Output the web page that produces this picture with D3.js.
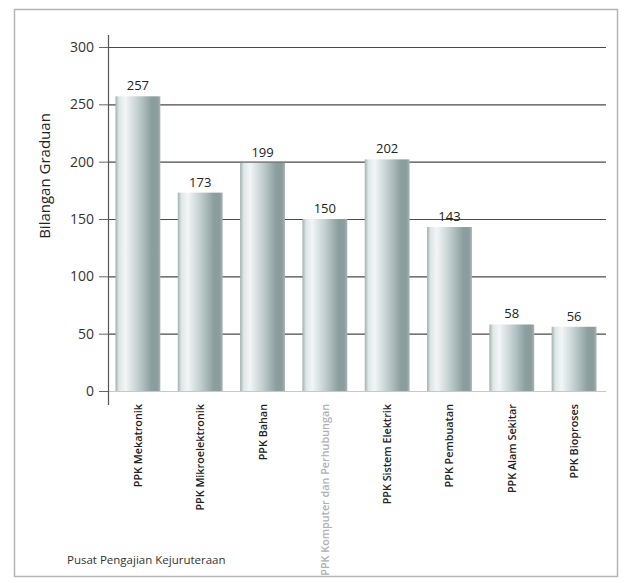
<!DOCTYPE html>
<html>
<head>
<meta charset="utf-8">
<script src="https://cdn.jsdelivr.net/npm/d3@7"></script>
<style>
  body { margin: 0; background: #fff; }
  svg { display: block; font-family: "Open Sans", sans-serif; }
</style>
</head>
<body>
<svg id="chart"></svg>
<script>
// data
let categories = [
    'PPK Mekatronik',
    'PPK Mikroelektronik',
    'PPK Bahan',
    'PPK Komputer dan Perhubungan',
    'PPK Sistem Elektrik',
    'PPK Pembuatan',
    'PPK Alam Sekitar',
    'PPK Bioproses'
]
let graduates = [257, 173, 199, 150, 202, 143, 58, 56]
let yTicks = [0, 50, 100, 150, 200, 250, 300]
let yTitle = 'Bilangan Graduan'
let xTitle = 'Pusat Pengajian Kejuruteraan'

let W = 626, H = 583
let margin = { left: 108, right: 20, top: 47, bottom: 192 }

let svg = d3.select('#chart').attr('width', W).attr('height', H)

// cylinder-like shading for the bars
let grad = svg.append('defs').append('linearGradient')
    .attr('id', 'barShade')
    .attr('x1', '0%').attr('x2', '100%')
let stops = [
    [0, '#9fb0b0'], [0.08, '#dfe6e6'], [0.22, '#f2f5f5'],
    [0.5, '#c3cfcf'], [0.8, '#8c9f9f'], [0.93, '#8a9c9c'], [1, '#a7b5b5']
]
stops.forEach(s => grad.append('stop').attr('offset', s[0]).attr('stop-color', s[1]))

// outer frame
svg.append('rect')
    .attr('x', 14.5).attr('y', 9.5)
    .attr('width', 603).attr('height', 567)
    .attr('fill', 'none').attr('stroke', '#b5b5b5').attr('stroke-width', 1.5)

let x = d3.scaleBand()
    .domain(categories)
    .range([margin.left, 604])
    .paddingInner(0.28)
    .paddingOuter(0.12)

let y = d3.scaleLinear()
    .domain([0, 300])
    .range([H - margin.bottom, margin.top])

// gridlines
svg.append('g')
    .selectAll('line')
    .data(yTicks.filter(t => t > 0))
    .join('line')
    .attr('x1', margin.left).attr('x2', 606)
    .attr('y1', d => y(d) + 0.5).attr('y2', d => y(d) + 0.5)
    .attr('stroke', '#4a4a4a').attr('stroke-width', 1.2)

// baseline
svg.append('line')
    .attr('x1', margin.left).attr('x2', 606)
    .attr('y1', y(0) + 0.5).attr('y2', y(0) + 0.5)
    .attr('stroke', '#c8c8c8')

// y axis
let yAxis = svg.append('g')
    .attr('transform', `translate(${margin.left},0)`)
    .call(d3.axisLeft(y).tickValues(yTicks).tickSize(9).tickPadding(5))
yAxis.select('.domain').remove()
yAxis.selectAll('.tick line').attr('stroke', '#666')
yAxis.selectAll('.tick text')
    .attr('font-size', 14).attr('fill', '#333')
    .attr('font-family', '"Open Sans", sans-serif')
svg.append('line')
    .attr('x1', margin.left + 0.5).attr('x2', margin.left + 0.5)
    .attr('y1', 35).attr('y2', 405)
    .attr('stroke', '#555').attr('stroke-width', 1.2)

// bars
svg.append('g')
    .selectAll('rect')
    .data(graduates)
    .join('rect')
    .attr('x', (d, i) => x(categories[i]))
    .attr('y', d => y(d))
    .attr('width', x.bandwidth())
    .attr('height', d => y(0) - y(d))
    .attr('fill', 'url(#barShade)')

// value labels
svg.append('g')
    .selectAll('text')
    .data(graduates)
    .join('text')
    .attr('x', (d, i) => x(categories[i]) + x.bandwidth() / 2)
    .attr('y', d => y(d) - 6)
    .attr('text-anchor', 'middle')
    .attr('font-size', 13)
    .attr('fill', '#222')
    .text(d => d)

// category labels, vertical
svg.append('g')
    .selectAll('text')
    .data(categories)
    .join('text')
    .attr('transform', d => `translate(${x(d) + x.bandwidth() / 2 + 4},${y(0) + 13}) rotate(-90)`)
    .attr('text-anchor', 'end')
    .attr('font-size', 10.8)
    .attr('font-weight', 600)
    .attr('fill', (d, i) => i === 3 ? '#b0b0b0' : '#222')
    .text(d => d)

// axis titles
svg.append('text')
    .attr('transform', `translate(50,176) rotate(-90)`)
    .attr('text-anchor', 'middle')
    .attr('font-size', 15)
    .attr('fill', '#222')
    .text(yTitle)

svg.append('text')
    .attr('x', 67).attr('y', 564)
    .attr('font-size', 11.5)
    .attr('fill', '#333')
    .text(xTitle)
</script>
</body>
</html>
